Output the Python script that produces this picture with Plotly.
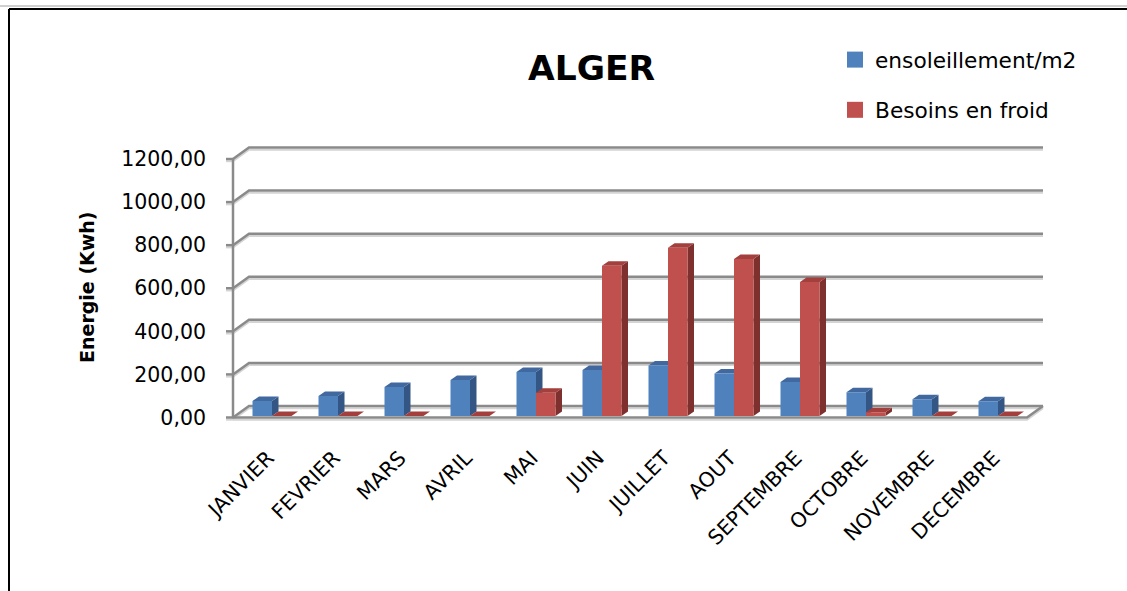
import plotly.graph_objects as go

# ---- data -------------------------------------------------------------
mois = ["JANVIER", "FEVRIER", "MARS", "AVRIL", "MAI", "JUIN", "JUILLET",
        "AOUT", "SEPTEMBRE", "OCTOBRE", "NOVEMBRE", "DECEMBRE"]
ensoleillement = [70, 93, 135, 167, 204, 214, 234, 197, 158, 110, 78, 68]
besoins_froid = [0, 0, 0, 0, 108, 698, 781, 729, 622, 17, 0, 0]
y_ticks = [0, 200, 400, 600, 800, 1000, 1200]
y_tick_labels = ["0,00", "200,00", "400,00", "600,00", "800,00", "1000,00", "1200,00"]

# ---- page geometry (pixels) ------------------------------------------
W, H = 1127, 591
L, R, T, B = 223, 1050, 130, 430          # plotting area
CAT_PX = 66.0                              # width of one category
CAT0_PX = 272.0                            # centre of the first category
VAL_PX = 0.2154                            # pixels per kWh on the front plane
ZERO_PX = 417.5                            # front baseline
FRONT_LEFT_PX, FRONT_RIGHT_PX = 233.0, 1027.0
WALL_DX, WALL_DY = 16.0, 11.5              # depth of the floor / back wall
BAR_DX, BAR_DY = 6.5, 4.5                  # depth of each column
BAR_W = 19.5                               # width of each column
BAR_LIFT = 1.5

def ux(px):          # pixel length -> category units
    return px / CAT_PX

def uy(px):          # pixel length -> kWh
    return px / VAL_PX

def xval(px):        # absolute pixel -> x data
    return (px - CAT0_PX) / CAT_PX

x_range = [xval(L), xval(R)]
y_range = [-(B - ZERO_PX) / VAL_PX, (ZERO_PX - T) / VAL_PX]

def paper_x(px):
    return (px - L) / (R - L)

def paper_y(py):
    return (B - py) / (B - T)

GRID = "#8a8a8a"
GRID_SHADOW = "#d4d4d4"
FONT = "DejaVu Sans"

fig = go.Figure()

# ---- walls, floor and gridlines --------------------------------------
xl, xr = xval(FRONT_LEFT_PX), xval(FRONT_RIGHT_PX)
ox, oy = ux(WALL_DX), uy(WALL_DY)
fx, fy = [], []
# front vertical axis
fx += [xl, xl, None]; fy += [0, y_ticks[-1], None]
# floor front edge and right edge
fx += [xl, xr, xr + ox, None]; fy += [0, 0, oy, None]
# gridlines on the back wall, joined to the front axis
for v in y_ticks:
    fx += [xl, xl + ox, xr + ox, None]
    fy += [v, v + oy, v + oy, None]
# tick marks
for v in y_ticks:
    fx += [xl - ux(7), xl, None]
    fy += [v, v, None]

# soft shadow under every frame line
sy = [None if y is None else y - uy(2.2) for y in fy]
fig.add_trace(go.Scatter(x=fx, y=sy, mode="lines",
                         line=dict(color=GRID_SHADOW, width=2),
                         hoverinfo="skip", showlegend=False))
fig.add_trace(go.Scatter(x=fx, y=fy, mode="lines",
                         line=dict(color=GRID, width=2.5),
                         hoverinfo="skip", showlegend=False))

# ---- 3D columns -------------------------------------------------------
def column_faces(values, left_px):
    front = ([], [])
    top = ([], [])
    side = ([], [])
    bx, by = ux(BAR_DX), uy(BAR_DY)
    lift = uy(BAR_LIFT)
    for i, v in enumerate(values):
        x0 = i + ux(left_px)
        x1 = x0 + ux(BAR_W)
        b, t = lift, lift + v
        front[0].extend([x0, x1, x1, x0, x0, None])
        front[1].extend([b, b, t, t, b, None])
        top[0].extend([x0, x1, x1 + bx, x0 + bx, x0, None])
        top[1].extend([t, t, t + by, t + by, t, None])
        side[0].extend([x1, x1 + bx, x1 + bx, x1, x1, None])
        side[1].extend([b, b + by, t + by, t, b, None])
    return front, top, side

series = [
    ("ensoleillement/m2", ensoleillement, -BAR_W, "#4f81bd", "#41699f", "#345684"),
    ("Besoins en froid", besoins_froid, 0.0, "#c0504d", "#a33f3c", "#7e302e"),
]

for name, vals, left, c_front, c_top, c_side in series:
    front, top, side = column_faces(vals, left)
    for (xs, ys), col in ((side, c_side), (top, c_top), (front, c_front)):
        fig.add_trace(go.Scatter(x=xs, y=ys, mode="lines", fill="toself",
                                 fillcolor=col, line=dict(width=0, color=col),
                                 hoverinfo="skip", showlegend=False))

# legend entries
for k, (name, vals, left, c_front, c_top, c_side) in enumerate(series):
    fig.add_trace(go.Scatter(x=[None], y=[None], mode="markers", name=name,
                             marker=dict(symbol="square", size=16, color=c_front),
                             legendgroup=f"g{k}", showlegend=True))

# ---- layout -----------------------------------------------------------
fig.update_layout(
    width=W, height=H,
    margin=dict(l=L, r=W - R, t=T, b=H - B, pad=0),
    paper_bgcolor="white", plot_bgcolor="rgba(0,0,0,0)",
    font=dict(family=FONT, color="black"),
    showlegend=True,
    legend=dict(x=paper_x(835), y=paper_y(39), xanchor="left", yanchor="top",
                font=dict(family=FONT, size=21.7, color="black"),
                bgcolor="rgba(0,0,0,0)", tracegroupgap=19, itemwidth=30),
    xaxis=dict(range=x_range, tickmode="array", tickvals=list(range(len(mois))),
               ticktext=mois, tickangle=-45, showgrid=False, zeroline=False,
               showline=False, ticks="", ticklabelstandoff=11, ticklabelshift=-4,
               tickfont=dict(family=FONT, size=20.5, color="black")),
    yaxis=dict(range=y_range, tickmode="array", tickvals=y_ticks,
               ticktext=y_tick_labels, showgrid=False, zeroline=False,
               showline=False, ticks="", ticklabelstandoff=16,
               tickfont=dict(family=FONT, size=20.5, color="black")),
    annotations=[
        dict(text="<b>ALGER</b>", xref="paper", yref="paper",
             x=paper_x(591), y=paper_y(68), xanchor="center", yanchor="middle",
             showarrow=False, font=dict(family=FONT, size=34.5, color="black")),
        dict(text="<b>Energie (Kwh)</b>", xref="paper", yref="paper",
             x=paper_x(87), y=paper_y(287), xanchor="center", yanchor="middle",
             textangle=-90, showarrow=False,
             font=dict(family=FONT, size=19, color="black")),
    ],
    shapes=[
        dict(type="line", xref="paper", yref="paper", x0=paper_x(0), x1=paper_x(W),
             y0=paper_y(6), y1=paper_y(6), line=dict(color="#a0a0a0", width=1)),
        dict(type="line", xref="paper", yref="paper", x0=paper_x(9), x1=paper_x(W),
             y0=paper_y(9), y1=paper_y(9), line=dict(color="black", width=2)),
        dict(type="line", xref="paper", yref="paper", x0=paper_x(9), x1=paper_x(9),
             y0=paper_y(9), y1=paper_y(H), line=dict(color="black", width=2)),
    ],
)

fig.write_html("out.html")
